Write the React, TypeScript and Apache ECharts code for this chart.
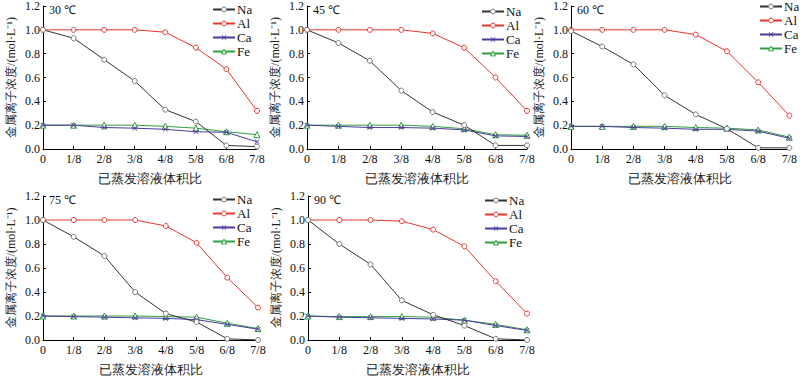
import React, { useEffect, useRef } from "react";
import * as echarts from "echarts";

const xLabels = ["0", "1/8", "2/8", "3/8", "4/8", "5/8", "6/8", "7/8"];
const seriesNames = ["Na", "Al", "Ca", "Fe"];
const panelTitles = ["30 ℃", "45 ℃", "60 ℃", "75 ℃", "90 ℃"];

const na30 = [1.0, 0.93, 0.75, 0.57, 0.33, 0.23, 0.03, 0.02];
const al30 = [1.0, 1.0, 1.0, 1.0, 0.98, 0.85, 0.67, 0.32];
const ca30 = [0.2, 0.2, 0.18, 0.175, 0.165, 0.145, 0.14, 0.06];
const fe30 = [0.2, 0.2, 0.2, 0.2, 0.19, 0.175, 0.145, 0.12];

const na45 = [1.0, 0.89, 0.74, 0.49, 0.31, 0.2, 0.03, 0.03];
const al45 = [1.0, 1.0, 1.0, 1.0, 0.97, 0.85, 0.6, 0.32];
const ca45 = [0.2, 0.19, 0.18, 0.18, 0.175, 0.16, 0.11, 0.105];
const fe45 = [0.2, 0.2, 0.2, 0.2, 0.19, 0.17, 0.12, 0.115];

const na60 = [0.99, 0.86, 0.71, 0.45, 0.29, 0.17, 0.01, 0.01];
const al60 = [1.0, 1.0, 1.0, 1.0, 0.96, 0.82, 0.56, 0.28];
const ca60 = [0.19, 0.19, 0.18, 0.175, 0.165, 0.165, 0.15, 0.09];
const fe60 = [0.19, 0.19, 0.19, 0.19, 0.18, 0.175, 0.16, 0.1];

const na75 = [1.0, 0.86, 0.7, 0.4, 0.22, 0.15, 0.01, 0.0];
const al75 = [1.0, 1.0, 1.0, 1.0, 0.95, 0.81, 0.52, 0.27];
const ca75 = [0.2, 0.195, 0.19, 0.185, 0.18, 0.17, 0.13, 0.09];
const fe75 = [0.2, 0.2, 0.2, 0.2, 0.195, 0.19, 0.14, 0.095];

const na90 = [1.0, 0.8, 0.63, 0.33, 0.21, 0.12, 0.01, 0.0];
const al90 = [1.0, 1.0, 1.0, 0.99, 0.92, 0.78, 0.49, 0.22];
const ca90 = [0.2, 0.19, 0.185, 0.18, 0.175, 0.165, 0.12, 0.08];
const fe90 = [0.2, 0.195, 0.195, 0.195, 0.19, 0.165, 0.13, 0.085];

const panelData = [
  [na30, al30, ca30, fe30],
  [na45, al45, ca45, fe45],
  [na60, al60, ca60, fe60],
  [na75, al75, ca75, fe75],
  [na90, al90, ca90, fe90],
];

const grids = [
  { left: 43, top: 6, width: 214, height: 143 },
  { left: 307, top: 6, width: 220, height: 143 },
  { left: 571, top: 6, width: 222, height: 143 },
  { left: 43, top: 196, width: 215, height: 144 },
  { left: 308, top: 196, width: 219, height: 144 },
];

const legendPos = [
  { left: 212, top: 3 },
  { left: 481, top: 5 },
  { left: 759, top: 0 },
  { left: 212, top: 193 },
  { left: 484, top: 194 },
];

const FONT = "'Liberation Serif', 'Times New Roman', serif";

const lineColors = ["#333333", "#e8352e", "#4b3a9c", "#2f9e3f"];
const markerColors = ["#777777", "#e8352e", "#4b3a9c", "#2f9e3f"];
const symbols = [
  "circle",
  "circle",
  "path://M0,1L1,0L5,4L9,0L10,1L6,5L10,9L9,10L5,6L1,10L0,9L4,5Z",
  "triangle",
];

function markerStyle(k: number) {
  return k !== 2
    ? { color: "#ffffff", borderColor: markerColors[k], borderWidth: 1 }
    : { color: markerColors[k], borderWidth: 0 };
}

export default function App() {
  const ref = useRef<HTMLDivElement>(null);
  useEffect(() => {
    document.body.style.margin = "0";
    if (!ref.current) return;
    const chart = echarts.init(ref.current, null, { renderer: "svg" });

    const xAxis: any[] = [];
    const yAxis: any[] = [];
    const series: any[] = [];
    const legend: any[] = [];
    const title: any[] = [];

    grids.forEach((g, i) => {
      xAxis.push({
        type: "category",
        gridIndex: i,
        data: xLabels,
        boundaryGap: false,
        name: "已蒸发溶液体积比",
        nameLocation: "middle",
        nameGap: 23,
        nameTextStyle: { fontFamily: FONT, fontSize: 13, color: "#222" },
        axisLine: { lineStyle: { color: "#000", width: 1 } },
        axisTick: { inside: true, length: 3, lineStyle: { color: "#000" } },
        axisLabel: { fontFamily: FONT, fontSize: 12, color: "#111", margin: 4 },
        splitLine: { show: false },
      });
      yAxis.push({
        type: "value",
        gridIndex: i,
        min: 0,
        max: 1.2,
        interval: 0.2,
        name: "金属离子浓度/(mol·L⁻¹)",
        nameLocation: "middle",
        nameGap: 26,
        nameTextStyle: { fontFamily: FONT, fontSize: 12, color: "#222" },
        axisLine: { show: true, lineStyle: { color: "#000", width: 1 } },
        axisTick: { show: true, inside: true, length: 3, lineStyle: { color: "#000" } },
        axisLabel: {
          fontFamily: FONT,
          fontSize: 12,
          color: "#111",
          margin: 3,
          formatter: (v: number) => v.toFixed(1),
        },
        splitLine: { show: false },
      });
      legend.push({
        data: seriesNames.map((n, k) => ({
          name: n + "\u200b".repeat(i),
          itemStyle: markerStyle(k),
        })),
        orient: "vertical",
        left: legendPos[i].left,
        top: legendPos[i].top,
        itemWidth: 22,
        itemHeight: 6,
        itemGap: 1,
        padding: 0,
        textStyle: { fontFamily: FONT, fontSize: 13, color: "#111", padding: [0, 0, 0, -3] },
      });
      title.push({
        text: panelTitles[i],
        left: g.left + 6,
        top: g.top - 2,
        padding: 0,
        textStyle: { fontFamily: FONT, fontSize: 12, fontWeight: "normal", color: "#111" },
      });
      panelData[i].forEach((arr, k) => {
        series.push({
          type: "line",
          name: seriesNames[k] + "\u200b".repeat(i),
          xAxisIndex: i,
          yAxisIndex: i,
          data: arr,
          symbol: symbols[k],
          symbolSize: k === 3 ? 6 : 5,
          lineStyle: { color: lineColors[k], width: 1 },
          itemStyle: markerStyle(k),
          emphasis: { disabled: true },
          z: 10 - k,
        });
      });
    });

    chart.setOption({
      animation: false,
      backgroundColor: "#fff",
      title,
      legend,
      grid: grids.map((g) => ({ ...g, containLabel: false })),
      xAxis,
      yAxis,
      series,
    });
    return () => chart.dispose();
  }, []);
  return <div ref={ref} style={{ width: 800, height: 380 }} />;
}
